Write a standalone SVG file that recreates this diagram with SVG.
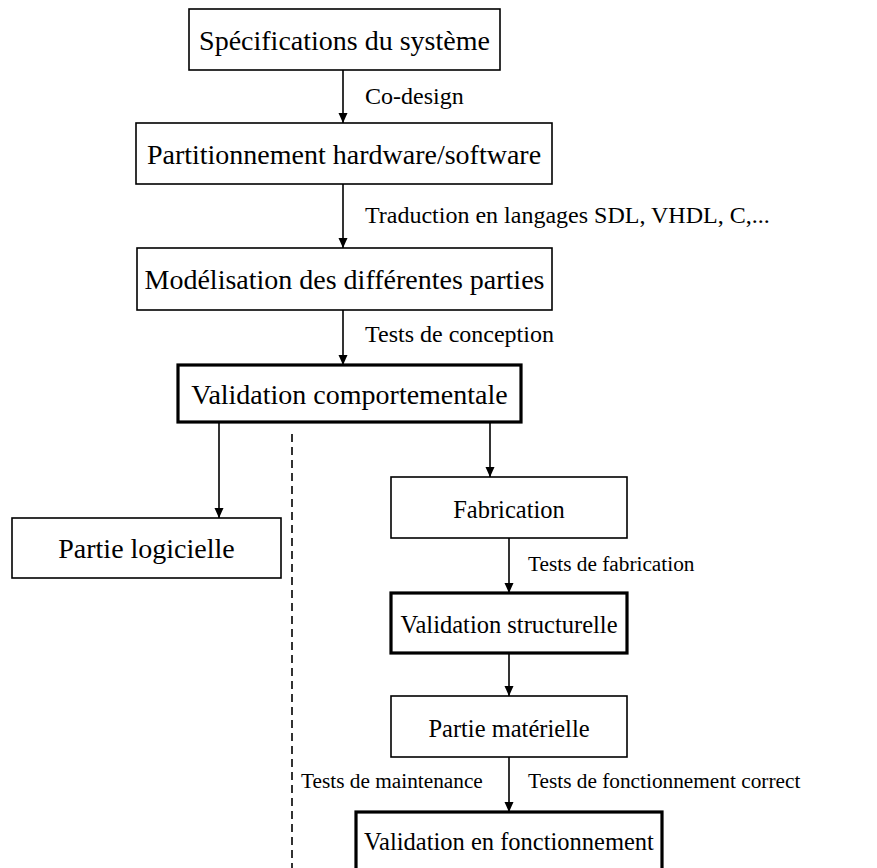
<svg xmlns="http://www.w3.org/2000/svg" width="877" height="868" viewBox="0 0 877 868">
  <defs>
    <marker id="arrow" viewBox="0 0 10 10" refX="10" refY="5" markerWidth="11" markerHeight="10" markerUnits="userSpaceOnUse" orient="auto">
      <path d="M0,0.5 L10,5 L0,9.5 z" fill="#000"/>
    </marker>
    <style>
      .box { fill: #fff; stroke: #000; stroke-width: 1.6; }
      .thick { fill: #fff; stroke: #000; stroke-width: 3.2; }
      .node-text { font-family: "Liberation Serif", "Times New Roman", serif; font-size: 28px; fill: #000; text-anchor: middle; }
      .node-text.small { font-size: 24.5px; }
      .label { font-family: "Liberation Serif", "Times New Roman", serif; font-size: 24px; fill: #000; }
      .label.small { font-size: 21.3px; }
      .edge { stroke: #000; stroke-width: 1.6; fill: none; marker-end: url(#arrow); }
      .dashed { stroke: #000; stroke-width: 1.6; fill: none; stroke-dasharray: 8 5; }
    </style>
  </defs>
  <rect width="877" height="868" fill="#fff"/>

  <!-- connectors -->
  <g id="connectors">
    <line class="edge" x1="343" y1="70" x2="343" y2="123"/>
    <line class="edge" x1="343" y1="184" x2="343" y2="248"/>
    <line class="edge" x1="343" y1="310" x2="343" y2="365"/>
    <line class="edge" x1="219" y1="422" x2="219" y2="518"/>
    <line class="edge" x1="490" y1="422" x2="490" y2="477"/>
    <line class="edge" x1="509" y1="538" x2="509" y2="593"/>
    <line class="edge" x1="509" y1="653" x2="509" y2="696"/>
    <line class="edge" x1="509" y1="757" x2="509" y2="812"/>
    <line class="dashed" x1="292" y1="434" x2="292" y2="868"/>
    <text class="label" x="365" y="104">Co-design</text>
    <text class="label" x="365" y="223">Traduction en langages SDL, VHDL, C,...</text>
    <text class="label" x="365" y="342">Tests de conception</text>
    <text class="label small" x="528" y="571">Tests de fabrication</text>
    <text class="label small" x="301" y="788">Tests de maintenance</text>
    <text class="label small" x="528" y="788">Tests de fonctionnement correct</text>
  </g>

  <g id="specifications">
    <rect class="box" x="189" y="9" width="311" height="61"/>
    <text class="node-text" x="344.5" y="50">Spécifications du système</text>
  </g>
  <g id="partitionnement">
    <rect class="box" x="136" y="123" width="416" height="61"/>
    <text class="node-text" x="344" y="164">Partitionnement hardware/software</text>
  </g>
  <g id="modelisation">
    <rect class="box" x="137" y="248" width="415" height="62"/>
    <text class="node-text" x="344.5" y="289">Modélisation des différentes parties</text>
  </g>
  <g id="validation-comportementale">
    <rect class="thick" x="178" y="365" width="343" height="57"/>
    <text class="node-text" x="349.5" y="404">Validation comportementale</text>
  </g>
  <g id="partie-logicielle">
    <rect class="box" x="12" y="518" width="269" height="60"/>
    <text class="node-text" x="146.5" y="558">Partie logicielle</text>
  </g>
  <g id="fabrication">
    <rect class="box" x="391" y="477" width="236" height="61"/>
    <text class="node-text small" x="509" y="518">Fabrication</text>
  </g>
  <g id="validation-structurelle">
    <rect class="thick" x="391" y="593" width="236" height="60"/>
    <text class="node-text small" x="509" y="633">Validation structurelle</text>
  </g>
  <g id="partie-materielle">
    <rect class="box" x="391" y="696" width="236" height="61"/>
    <text class="node-text small" x="509" y="737">Partie matérielle</text>
  </g>
  <g id="validation-fonctionnement">
    <rect class="thick" x="356" y="812" width="306" height="70"/>
    <text class="node-text small" x="509" y="850">Validation en fonctionnement</text>
  </g>
</svg>
